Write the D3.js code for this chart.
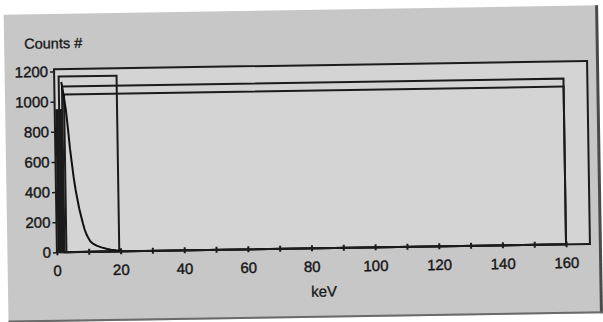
<!DOCTYPE html>
<html>
<head>
<meta charset="utf-8">
<script src="https://cdn.jsdelivr.net/npm/d3@7/dist/d3.min.js"></script>
<style>
  html, body { margin: 0; padding: 0; background: #fff; }
  svg { display: block; font-family: "Liberation Sans", Arial, sans-serif; }
</style>
</head>
<body>
<div class="chart"></div>
<script>
const width = 603;
const height = 322;

// spectrum trace (keV, counts)
const energies = [2.2, 2.6, 3.0, 3.5, 4.1, 4.6, 5.1, 5.6, 6.2, 6.7, 7.2, 7.8, 8.3, 8.8, 9.4, 10.0, 10.6, 11.5, 12.5, 14.0, 15.6, 17.0, 18.5, 20.0];
const counts   = [1130, 1080, 1020, 946, 813, 690, 595, 500, 410, 350, 290, 235, 190, 150, 115, 90, 68, 52, 40, 28, 18, 12, 8, 5];

// dense low-energy band next to the axis
const bandKeV = [0.2, 2.4];
const bandTop = 950;

// region boxes
const roiStart = [1.4, 2.4, 3.0];
const roiEnd   = [19.6, 160, 160];
const roiTop   = [1166, 1100, 1047];

// plot frame
const frameMaxKeV = 167.5;
const frameMaxCounts = 1215;

const xTickValues = [0, 10, 20, 30, 40, 50, 60, 70, 80, 90, 100, 110, 120, 130, 140, 150, 160];
const xTickLabels = [0, 20, 40, 60, 80, 100, 120, 140, 160];
const yTickLabels = [0, 200, 400, 600, 800, 1000, 1200];

const x = d3.scaleLinear().domain([0, 160]).range([55.5, 564.7]);
const y = d3.scaleLinear().domain([0, 1200]).range([248.5, 67.7]);

const svg = d3.select("div.chart").append("svg")
    .attr("width", width)
    .attr("height", height);

// the scan is slightly tilted
const g = svg.append("g").attr("transform", "rotate(-0.9, 300, 160)");

// grey panel
g.append("rect")
    .attr("x", 6).attr("y", 10)
    .attr("width", 594).attr("height", 308)
    .attr("fill", "#c7c7c7");
g.append("line")
    .attr("x1", 599).attr("x2", 599).attr("y1", 10).attr("y2", 318)
    .attr("stroke", "#4a4a4a").attr("stroke-width", 3);
g.append("line")
    .attr("x1", 6).attr("x2", 600).attr("y1", 317).attr("y2", 317)
    .attr("stroke", "#6a6a6a").attr("stroke-width", 2);

// plot frame
g.append("rect")
    .attr("x", x(0)).attr("y", y(frameMaxCounts))
    .attr("width", x(frameMaxKeV) - x(0))
    .attr("height", y(0) - y(frameMaxCounts))
    .attr("fill", "#d4d4d4")
    .attr("stroke", "#1c1c1c")
    .attr("stroke-width", 2);

// band
g.append("rect")
    .attr("x", x(bandKeV[0])).attr("y", y(bandTop))
    .attr("width", x(bandKeV[1]) - x(bandKeV[0]))
    .attr("height", y(0) - y(bandTop))
    .attr("fill", "#1a1a1a");

// region boxes
g.append("g").selectAll("rect")
    .data(roiStart)
    .join("rect")
    .attr("x", (d, i) => x(d))
    .attr("y", (d, i) => y(roiTop[i]))
    .attr("width", (d, i) => x(roiEnd[i]) - x(d))
    .attr("height", (d, i) => y(0) - y(roiTop[i]))
    .attr("fill", "none")
    .attr("stroke", "#1c1c1c")
    .attr("stroke-width", 2);

// spectrum
const line = d3.line()
    .x((d, i) => x(energies[i]))
    .y((d, i) => y(d));
g.append("path")
    .datum(counts)
    .attr("d", line)
    .attr("fill", "none")
    .attr("stroke", "#111")
    .attr("stroke-width", 2);

// x axis
const xAxis = g.append("g")
    .attr("transform", `translate(0,${y(0)})`)
    .call(d3.axisBottom(x)
        .tickValues(xTickValues)
        .tickSize(3)
        .tickPadding(10)
        .tickFormat(d => xTickLabels.includes(d) ? d : ""));
xAxis.select(".domain").remove();
xAxis.selectAll(".tick line").attr("y1", -3).attr("stroke", "#1c1c1c").attr("stroke-width", 2);

// y axis
const yAxis = g.append("g")
    .attr("transform", `translate(${x(0)},0)`)
    .call(d3.axisLeft(y)
        .tickValues(yTickLabels)
        .tickFormat(d3.format("d"))
        .tickSize(4)
        .tickPadding(2));
yAxis.select(".domain").remove();
yAxis.selectAll(".tick line").attr("stroke", "#1c1c1c").attr("stroke-width", 1.5);

g.selectAll(".tick text")
    .attr("font-size", 15)
    .attr("fill", "#161616")
    .attr("stroke", "#161616")
    .attr("stroke-width", 0.4);

// titles
g.append("text")
    .attr("x", 26).attr("y", 44.5)
    .attr("font-size", 14.5)
    .attr("fill", "#161616")
    .attr("stroke", "#161616")
    .attr("stroke-width", 0.3)
    .text("Counts #");
g.append("text")
    .attr("x", x(frameMaxKeV / 2)).attr("y", 297)
    .attr("text-anchor", "middle")
    .attr("font-size", 15)
    .attr("fill", "#161616")
    .attr("stroke", "#161616")
    .attr("stroke-width", 0.3)
    .text("keV");
</script>
</body>
</html>
